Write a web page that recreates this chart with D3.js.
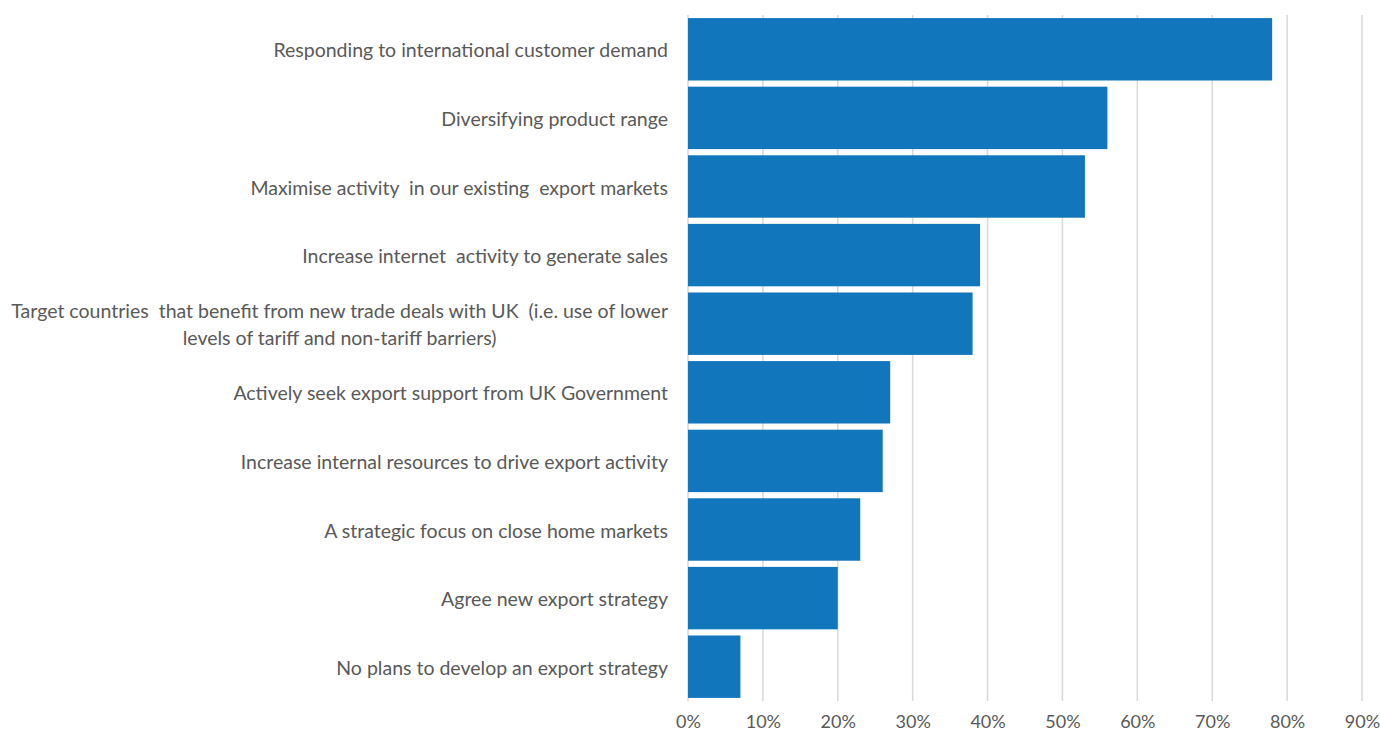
<!DOCTYPE html>
<html>
<head>
<meta charset="utf-8">
<script src="https://cdn.jsdelivr.net/npm/d3@7"></script>
<style>
  html, body { margin: 0; padding: 0; background: #fff; }
  svg text { font-family: "Lato", "Open Sans", sans-serif; fill: #595959; white-space: pre; }
</style>
</head>
<body>
<svg id="chart" width="1380" height="733"></svg>
<script>
// Export plans: share of respondents per activity
const categories = [
  ["Responding to international customer demand"],
  ["Diversifying product range"],
  ["Maximise activity  in our existing  export markets"],
  ["Increase internet  activity to generate sales"],
  ["Target countries  that benefit from new trade deals with UK  (i.e. use of lower", "levels of tariff and non-tariff barriers)"],
  ["Actively seek export support from UK Government"],
  ["Increase internal resources to drive export activity"],
  ["A strategic focus on close home markets"],
  ["Agree new export strategy"],
  ["No plans to develop an export strategy"]
];
const values = [0.78, 0.56, 0.53, 0.39, 0.38, 0.27, 0.26, 0.23, 0.20, 0.07];
const tickValues = [0, 0.1, 0.2, 0.3, 0.4, 0.5, 0.6, 0.7, 0.8, 0.9];

const svg = d3.select("#chart");
const margin = { left: 688, right: 18, top: 15, bottom: 32 };
const W = 1380, H = 733;

const x = d3.scaleLinear().domain([0, 0.9]).range([margin.left, W - margin.right]);
const keys = categories.map((c, i) => i);
const y = d3.scaleBand().domain(keys).range([margin.top, H - margin.bottom])
  .paddingInner(0.09).paddingOuter(0.045);

// vertical gridlines
svg.append("g").selectAll("line").data(tickValues).join("line")
  .attr("x1", d => x(d)).attr("x2", d => x(d))
  .attr("y1", margin.top).attr("y2", H - margin.bottom)
  .attr("stroke", "#d9d9d9").attr("stroke-width", 1.5);

// bars
svg.append("g").selectAll("rect").data(values).join("rect")
  .attr("x", x(0)).attr("y", (d, i) => y(i))
  .attr("width", d => x(d) - x(0)).attr("height", y.bandwidth())
  .attr("fill", "#1276bd");

// x axis labels
const xAxis = d3.axisBottom(x).tickValues(tickValues).tickFormat(d3.format(".0%")).tickSize(0).tickPadding(14);
const gx = svg.append("g").attr("transform", `translate(0,${H - margin.bottom})`).call(xAxis);
gx.select(".domain").remove();
gx.selectAll("text").attr("font-size", 18).style("font-family", "Lato, 'Open Sans', sans-serif").attr("fill", "#595959");

// category labels
const lineH = 27;
const lab = svg.append("g").selectAll("text").data(categories).join("text")
  .attr("font-size", 19.5)
  .attr("y", (d, i) => y(i) + y.bandwidth() / 2)
  .attr("dominant-baseline", "central");
lab.each(function(lines) {
  const t = d3.select(this);
  const n = lines.length;
  lines.forEach((s, k) => {
    t.append("tspan")
      .attr("x", 668)
      .attr("text-anchor", k > 0 ? "middle" : "end")
      .attr("dy", k === 0 ? -(n - 1) * lineH / 2 : lineH)
      .text(s);
  });
});
// center the continuation line under the first line of a wrapped label
lab.each(function(lines) {
  if (lines.length < 2) return;
  const spans = d3.select(this).selectAll("tspan").nodes();
  const w = spans[0].getComputedTextLength();
  const cx = 668 - w / 2;
  spans.slice(1).forEach(s => d3.select(s).attr("x", cx));
});
</script>
</body>
</html>
